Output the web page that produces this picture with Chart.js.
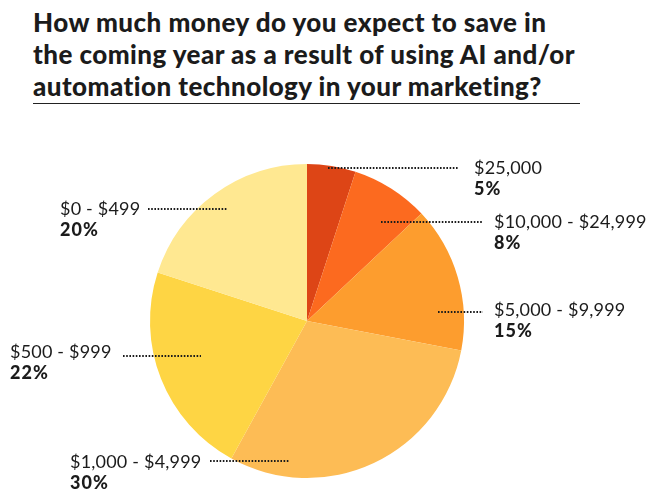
<!DOCTYPE html>
<html>
<head>
<meta charset="utf-8">
<script src="https://cdn.jsdelivr.net/npm/chart.js@4"></script>
<style>
  html,body{margin:0;padding:0;background:#fff;}
  #wrap{position:relative;width:659px;height:502px;overflow:hidden;}
  #title{position:absolute;left:33px;top:6px;width:620px;margin:0;font-family:Lato,sans-serif;font-weight:900;font-size:26px;letter-spacing:0.45px;line-height:32px;color:#1b1b1b;white-space:nowrap;}
  #rule{position:absolute;left:33px;top:103px;width:547px;height:0;border-top:1.5px solid #222;}
  canvas{position:absolute;left:0;top:0;}
</style>
</head>
<body>
<div id="wrap">
  <h1 id="title">How much money do you expect to save in<br>the coming year as a result of using AI and/or<br>automation technology in your marketing?</h1>
  <div id="rule"></div>
  <canvas id="c" width="659" height="502"></canvas>
</div>
<script>
const categories = ["$25,000", "$10,000 - $24,999", "$5,000 - $9,999", "$1,000 - $4,999", "$500 - $999", "$0 - $499"];
const percentages = [5, 8, 15, 30, 22, 20];
const sliceColors = ["#DD4516", "#FC6A1F", "#FD9D2E", "#FDBC55", "#FED544", "#FFE891"];

// label placement: text anchor (x, y of first line), dotted leader from x1 to x2 at y
const labelLayout = [
  {tx: 474, ty: 168, x1: 328, x2: 458, ly: 168},
  {tx: 494, ty: 222, x1: 381, x2: 483, ly: 222},
  {tx: 494, ty: 310, x1: 438, x2: 483, ly: 312},
  {tx: 70,  ty: 462, x1: 210, x2: 289, ly: 461},
  {tx: 10,  ty: 352, x1: 123, x2: 201, ly: 356},
  {tx: 60,  ty: 209, x1: 148, x2: 227, ly: 209}
];

const calloutPlugin = {
  id: "callouts",
  afterDraw(chart) {
    const ctx = chart.ctx;
    const labels = chart.data.labels;
    const vals = chart.data.datasets[0].data;
    ctx.save();
    labelLayout.forEach((p, i) => {
      ctx.strokeStyle = "#1b1b1b";
      ctx.lineWidth = 2;
      ctx.setLineDash([1.6, 1.6]);
      ctx.beginPath();
      ctx.moveTo(p.x1, p.ly);
      ctx.lineTo(p.x2, p.ly);
      ctx.stroke();
      ctx.setLineDash([]);
      ctx.fillStyle = "#1b1b1b";
      ctx.textAlign = "left";
      ctx.textBaseline = "middle";
      ctx.font = "400 18px Lato, sans-serif";
      ctx.letterSpacing = "0.2px";
      ctx.fillText(labels[i], p.tx, p.ty);
      ctx.font = "900 18px Lato, sans-serif";
      ctx.letterSpacing = "1px";
      ctx.fillText(vals[i] + "%", p.tx, p.ty + 21);
      ctx.letterSpacing = "0px";
    });
    ctx.restore();
  }
};

new Chart(document.getElementById("c"), {
  type: "pie",
  data: {
    labels: categories,
    datasets: [{
      data: percentages,
      backgroundColor: sliceColors,
      borderWidth: 0,
      hoverOffset: 0
    }]
  },
  options: {
    responsive: false,
    animation: false,
    layout: {padding: {left: 150, right: 195, top: 164, bottom: 24}},
    plugins: {legend: {display: false}, tooltip: {enabled: false}}
  },
  plugins: [calloutPlugin]
});
</script>
</body>
</html>
